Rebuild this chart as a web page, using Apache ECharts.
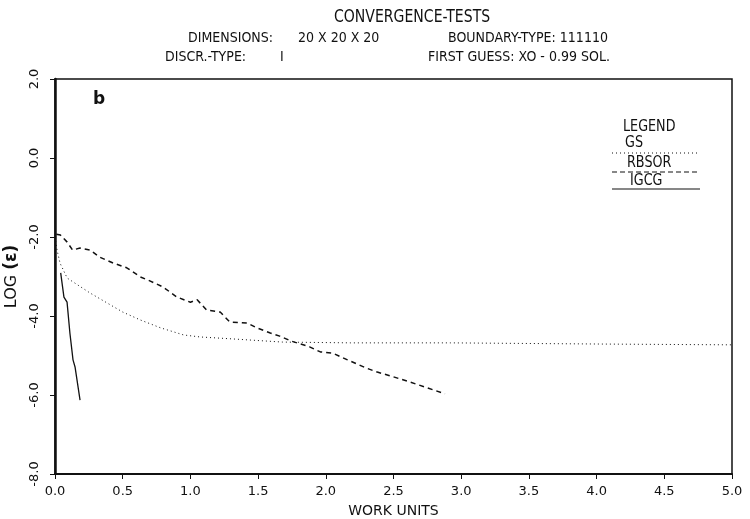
<!DOCTYPE html>
<html>
<head>
<meta charset="utf-8">
<script src="https://cdn.jsdelivr.net/npm/echarts@6/dist/echarts.min.js"></script>
<style>
  html, body { margin: 0; padding: 0; background: #fff; }
  #chart { width: 750px; height: 519px; }
</style>
</head>
<body>
<div id="chart"></div>
<script>
// values: [work units, log(eps)]
const gsData = [
  [0.0, -2.0], [0.015, -2.33], [0.037, -2.66], [0.09, -3.04], [0.26, -3.42],
  [0.5, -3.9], [0.63, -4.1], [0.78, -4.3], [0.95, -4.48], [1.07, -4.53],
  [1.31, -4.58], [1.68, -4.66], [2.18, -4.68], [2.92, -4.68], [4.03, -4.71],
  [5.0, -4.73]
];
const rbsorData = [
  [0.01, -1.93], [0.04, -1.95], [0.09, -2.13], [0.13, -2.33], [0.185, -2.28],
  [0.26, -2.33], [0.33, -2.51], [0.43, -2.66], [0.53, -2.78], [0.63, -3.01],
  [0.7, -3.11], [0.8, -3.27], [0.9, -3.52], [1.0, -3.65], [1.05, -3.59],
  [1.12, -3.85], [1.22, -3.9], [1.29, -4.15], [1.42, -4.18], [1.49, -4.3],
  [1.59, -4.43], [1.66, -4.51], [1.74, -4.63], [1.88, -4.78], [1.96, -4.91],
  [2.05, -4.94], [2.16, -5.11], [2.3, -5.32], [2.38, -5.42], [2.5, -5.54],
  [2.62, -5.67], [2.75, -5.82], [2.88, -5.97]
];
const igcgData = [
  [0.042, -2.91], [0.066, -3.52], [0.089, -3.65], [0.11, -4.43],
  [0.133, -5.11], [0.148, -5.29], [0.185, -6.13]
];

// header texts: [text, left x, y, font size, horizontal squeeze]
const headerTexts = [
  ["CONVERGENCE-TESTS", 334, 17, 18, 0.78],
  ["DIMENSIONS:", 188, 38, 14, 0.9],
  ["20 X 20 X 20", 298, 38, 14, 0.9],
  ["BOUNDARY-TYPE: 111110", 448, 38, 14, 0.9],
  ["DISCR.-TYPE:", 165, 57, 14, 0.9],
  ["I", 280, 57, 14, 0.9],
  ["FIRST GUESS: XO - 0.99 SOL.", 428, 57, 14, 0.9]
];
const legendTexts = [
  ["LEGEND", 623, 127, 15, 0.85],
  ["GS", 625, 143, 15, 0.85],
  ["RBSOR", 627, 163, 15, 0.85],
  ["IGCG", 630, 181, 15, 0.85]
];

const FONT = "'DejaVu Sans', sans-serif";
const INK = "#111";

const chart = echarts.init(document.getElementById("chart"), null, { renderer: "canvas" });

function squeezedText(t) {
  return {
    type: "text", x: t[1], y: t[2], scaleX: t[4], z: 100,
    style: { text: t[0], font: t[3] + "px " + FONT, fill: INK, textAlign: "left", textVerticalAlign: "middle" }
  };
}
function legLine(y, dash) {
  return {
    type: "line", z: 100,
    shape: { x1: 612, y1: y, x2: 700, y2: y },
    style: { stroke: INK, lineWidth: 1.2, lineDash: dash }
  };
}

const graphics = headerTexts.concat(legendTexts).map(squeezedText);
graphics.push(
  { type: "text", x: 93, y: 100, z: 100, style: { text: "b", font: "bold 17px " + FONT, fill: INK, textVerticalAlign: "middle" } },
  legLine(153, [1, 3]),
  legLine(172, [5, 3]),
  legLine(189, null)
);

const option = {
  backgroundColor: "#fff",
  animation: false,
  grid: {
    left: 55, right: 18, top: 79, bottom: 45,
    outerBoundsMode: "none", containLabel: false,
    show: true, borderColor: INK, borderWidth: 1.5, backgroundColor: "transparent"
  },
  xAxis: {
    type: "value", min: 0, max: 5, interval: 0.5,
    name: "WORK UNITS", nameLocation: "middle", nameGap: 30,
    nameTextStyle: { color: INK, fontSize: 14, fontFamily: FONT },
    axisLine: { show: true, onZero: false, lineStyle: { color: INK, width: 2 } },
    axisTick: { show: true, inside: false, length: 5, lineStyle: { color: INK, width: 1 } },
    axisLabel: { color: INK, fontSize: 13, fontFamily: FONT, margin: 11,
      formatter: function (v) { return v.toFixed(1); } },
    splitLine: { show: false }
  },
  yAxis: {
    type: "value", min: -8, max: 2, interval: 2,
    name: "LOG {b|(ε)}", nameLocation: "middle", nameGap: 32, nameRotate: 90,
    nameTextStyle: { color: INK, fontSize: 16, fontFamily: FONT,
      rich: { b: { fontWeight: "bold", fontSize: 17, fontFamily: FONT, color: INK } } },
    axisLine: { show: true, lineStyle: { color: INK, width: 2.5 } },
    axisTick: { show: true, inside: false, length: 5, lineStyle: { color: INK, width: 1 } },
    axisLabel: { color: INK, fontSize: 13, fontFamily: FONT, rotate: 90, margin: 14,
      formatter: function (v) { return v.toFixed(1); } },
    splitLine: { show: false }
  },
  series: [
    { name: "GS", type: "line", data: gsData, showSymbol: false, symbol: "none",
      lineStyle: { color: INK, width: 1, type: [1, 3] } },
    { name: "RBSOR", type: "line", data: rbsorData, showSymbol: false, symbol: "none",
      lineStyle: { color: INK, width: 1.5, type: [5, 4] } },
    { name: "IGCG", type: "line", data: igcgData, showSymbol: false, symbol: "none",
      lineStyle: { color: INK, width: 1.3, type: "solid" } }
  ],
  graphic: graphics
};

chart.setOption(option);
</script>
</body>
</html>
